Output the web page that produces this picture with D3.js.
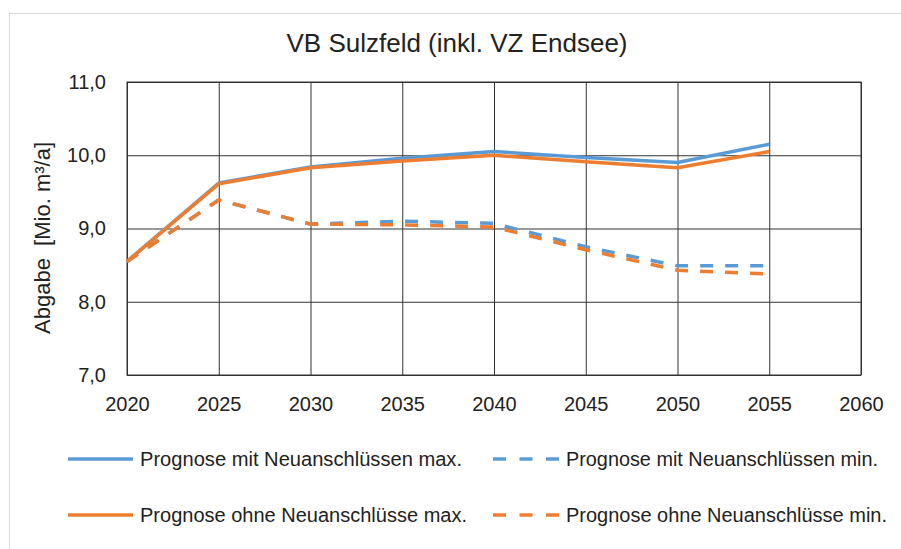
<!DOCTYPE html>
<html>
<head>
<meta charset="utf-8">
<script src="https://cdn.jsdelivr.net/npm/d3@7"></script>
<style>
  body { margin: 0; background: #fff; }
  svg text { font-family: "Liberation Sans", Arial, sans-serif; fill: #222; }
</style>
</head>
<body>
<script>
// VB Sulzfeld - Abgabe Prognose

const years = [2020, 2025, 2030, 2035, 2040, 2045, 2050, 2055];
const xTicks = [2020, 2025, 2030, 2035, 2040, 2045, 2050, 2055, 2060];
const yTicks = [7, 8, 9, 10, 11];

const mitMax  = [8.55, 9.62, 9.84, 9.96, 10.05, 9.97, 9.90, 10.15];
const mitMin  = [8.55, 9.39, 9.06, 9.10, 9.07, 8.75, 8.49, 8.49];
const ohneMax = [8.55, 9.61, 9.83, 9.92, 10.00, 9.91, 9.83, 10.05];
const ohneMin = [8.55, 9.39, 9.06, 9.05, 9.02, 8.71, 8.43, 8.38];

const seriesNames = [
  "Prognose mit Neuanschlüssen max.",
  "Prognose mit Neuanschlüssen min.",
  "Prognose ohne Neuanschlüsse max.",
  "Prognose ohne Neuanschlüsse min."
];

const blue = "#5b9bd5", orange = "#ed7d31";
const series = [
  { name: seriesNames[0], values: mitMax,  color: blue,   dash: null },
  { name: seriesNames[1], values: mitMin,  color: blue,   dash: "13,12" },
  { name: seriesNames[2], values: ohneMax, color: orange, dash: null },
  { name: seriesNames[3], values: ohneMin, color: orange, dash: "13,12" }
];

const svg = d3.select("body").append("svg")
  .attr("width", 901)
  .attr("height", 549);

// outer chart border (faint)
svg.append("rect")
  .attr("x", 9.5).attr("y", 13.5)
  .attr("width", 900).attr("height", 560)
  .attr("fill", "none")
  .attr("stroke", "#d9d9d9");

const x = d3.scaleLinear().domain([2020, 2060]).range([127, 861]);
const y = d3.scaleLinear().domain([7, 11]).range([375, 82]);

const fmt = d => d3.format(".1f")(d).replace(".", ",");

// y gridlines + labels
const gy = svg.append("g")
  .attr("transform", `translate(${x(2020)},0)`)
  .call(d3.axisLeft(y).tickValues(yTicks).tickFormat(fmt)
    .tickSize(-(x(2060) - x(2020))).tickPadding(21));
gy.select(".domain").remove();
gy.selectAll("line").attr("stroke", "#333");
gy.selectAll("text").attr("font-size", 20).attr("fill", "#222");

// x gridlines + labels
const gx = svg.append("g")
  .attr("transform", `translate(0,${y(7)})`)
  .call(d3.axisBottom(x).tickValues(xTicks).tickFormat(d3.format("d"))
    .tickSize(-(y(7) - y(11))).tickPadding(22));
gx.select(".domain").remove();
gx.selectAll("line").attr("stroke", "#333");
gx.selectAll("text").attr("font-size", 20).attr("fill", "#222");

// plot border
svg.append("rect")
  .attr("x", x(2020)).attr("y", y(11))
  .attr("width", x(2060) - x(2020)).attr("height", y(7) - y(11))
  .attr("fill", "none")
  .attr("stroke", "#333");

const line = d3.line()
  .x((d, i) => x(years[i]))
  .y(d => y(d));

svg.append("g")
  .selectAll("path")
  .data(series)
  .join("path")
    .attr("d", d => line(d.values))
    .attr("fill", "none")
    .attr("stroke", d => d.color)
    .attr("stroke-width", 3.5)
    .attr("stroke-linejoin", "round")
    .attr("stroke-dasharray", d => d.dash);

// title
svg.append("text")
  .attr("x", 457).attr("y", 52)
  .attr("text-anchor", "middle")
  .attr("font-size", 25)
  .attr("textLength", 341)
  .attr("lengthAdjust", "spacingAndGlyphs")
  .text("VB Sulzfeld (inkl. VZ Endsee)");

// y axis title
svg.append("text")
  .attr("transform", "translate(50,238) rotate(-90)")
  .attr("text-anchor", "middle")
  .attr("font-size", 22)
  .style("white-space", "pre")
  .text("Abgabe  [Mio. m³/a]");

// legend
const legendPos = [
  { lx: 68,  ly: 459, w: 65, tx: 140, tl: 322 },
  { lx: 493, ly: 459, w: 66, tx: 566, tl: 312 },
  { lx: 68,  ly: 515, w: 65, tx: 140, tl: 327 },
  { lx: 493, ly: 515, w: 66, tx: 566, tl: 321 }
];

const leg = svg.append("g")
  .selectAll("g")
  .data(series)
  .join("g");

leg.append("line")
  .attr("x1", (d, i) => legendPos[i].lx)
  .attr("x2", (d, i) => legendPos[i].lx + legendPos[i].w)
  .attr("y1", (d, i) => legendPos[i].ly)
  .attr("y2", (d, i) => legendPos[i].ly)
  .attr("stroke", d => d.color)
  .attr("stroke-width", 3.5)
  .attr("stroke-dasharray", d => d.dash ? "13,13.5" : null);

leg.append("text")
  .attr("x", (d, i) => legendPos[i].tx)
  .attr("y", (d, i) => legendPos[i].ly)
  .attr("dy", "0.35em")
  .attr("font-size", 20)
  .attr("textLength", (d, i) => legendPos[i].tl)
  .attr("lengthAdjust", "spacingAndGlyphs")
  .text(d => d.name);
</script>
</body>
</html>
